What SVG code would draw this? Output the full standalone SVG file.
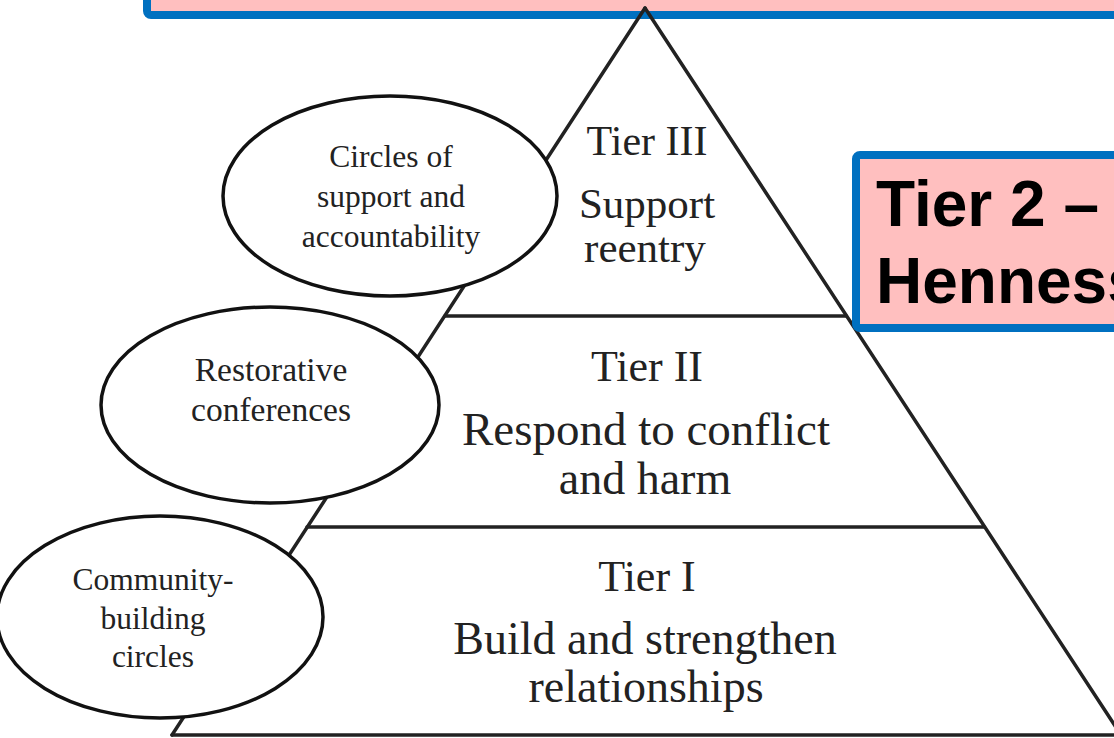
<svg xmlns="http://www.w3.org/2000/svg" width="1114" height="738" viewBox="0 0 1114 738">
<style>
.box{fill:#FFBFBF;stroke:#0070C0;stroke-width:8}
.edge{stroke:#222;stroke-width:3.5;fill:none;stroke-linecap:round;stroke-linejoin:miter}
.oval{fill:#fff;stroke:#111;stroke-width:3.5}
.serif{font-family:"Liberation Serif","Times New Roman",serif;fill:#222;text-anchor:middle}
.bold{font-family:"Liberation Sans",Arial,sans-serif;font-weight:bold;fill:#000}
</style>
<rect width="1114" height="738" fill="#fff"/>
<g id="top-box">
<rect class="box" x="147" y="-60" width="1100" height="75" rx="4"/>
</g>
<g id="connectors">
<line class="edge" x1="645" y1="8" x2="172" y2="735"/>
</g>
<g id="pyramid">
<polyline class="edge" points="645,8 1121,735"/>
<line class="edge" x1="445" y1="316" x2="846" y2="316"/>
<line class="edge" x1="307" y1="527" x2="984" y2="527"/>
<line class="edge" x1="172" y1="735" x2="1121" y2="735"/>
</g>
<g id="tier3">
<text class="serif" x="647" y="155" font-size="42">Tier III</text>
<text class="serif" x="647" y="218" font-size="43">Support</text>
<text class="serif" x="645" y="262" font-size="43">reentry</text>
</g>
<g id="tier2">
<text class="serif" x="647" y="381" font-size="44">Tier II</text>
<text class="serif" x="646" y="445" font-size="47">Respond to conflict</text>
<text class="serif" x="645" y="494" font-size="46">and harm</text>
</g>
<g id="tier1">
<text class="serif" x="647" y="591" font-size="44">Tier I</text>
<text class="serif" x="645" y="654" font-size="46">Build and strengthen</text>
<text class="serif" x="646" y="702" font-size="46">relationships</text>
</g>
<g id="circles-support">
<ellipse class="oval" cx="390" cy="196" rx="167" ry="100"/>
<text class="serif" x="391" y="167" font-size="31.5">Circles of</text>
<text class="serif" x="391" y="207" font-size="31.5">support and</text>
<text class="serif" x="391" y="247" font-size="31.5">accountability</text>
</g>
<g id="restorative">
<ellipse class="oval" cx="270" cy="405" rx="169" ry="98"/>
<text class="serif" x="271" y="381" font-size="33.5">Restorative</text>
<text class="serif" x="271" y="421" font-size="33.5">conferences</text>
</g>
<g id="community">
<ellipse class="oval" cx="160" cy="617" rx="163" ry="101"/>
<text class="serif" x="153" y="590" font-size="31.5">Community-</text>
<text class="serif" x="153" y="629" font-size="31.5">building</text>
<text class="serif" x="153" y="667" font-size="31.5">circles</text>
</g>
<g id="tier2-box">
<rect class="box" x="856" y="155" width="400" height="173" rx="4"/>
<text class="bold" x="876" y="226" font-size="64">Tier 2 –</text>
<text class="bold" x="876" y="303" font-size="64">Hennessy</text>
</g>
</svg>
